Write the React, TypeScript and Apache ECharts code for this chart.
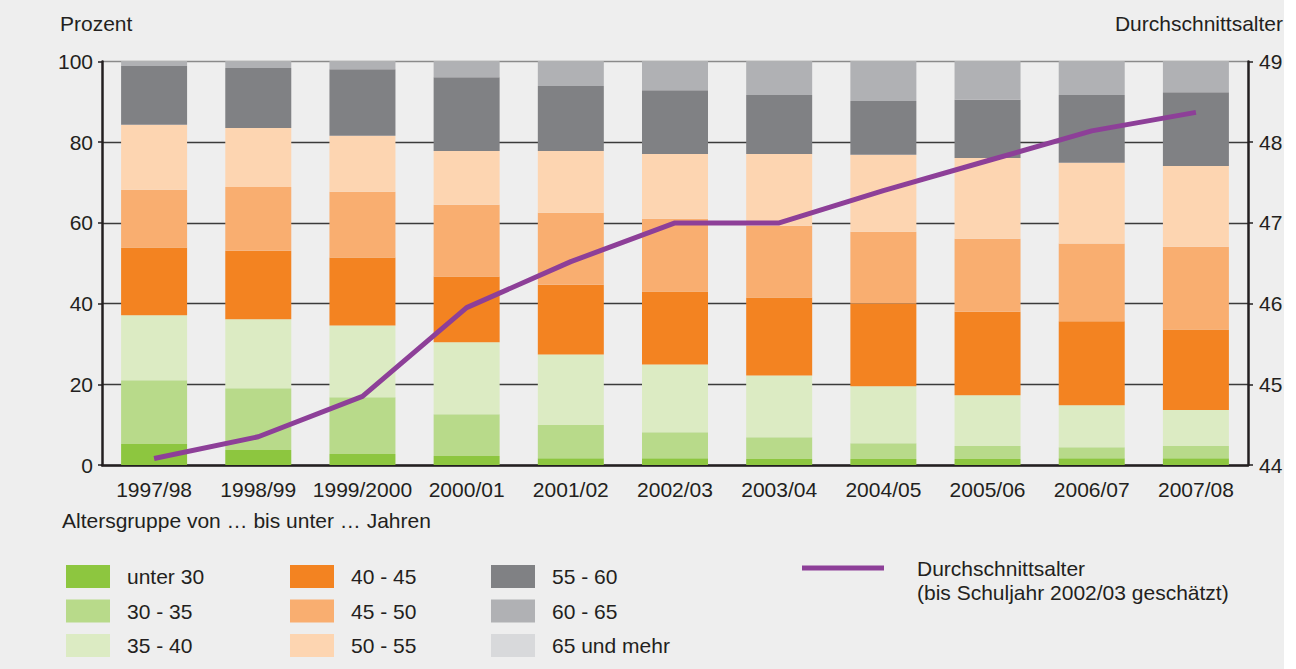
import React, { useEffect, useRef } from "react";
import * as echarts from "echarts";

const categories = ["1997/98", "1998/99", "1999/2000", "2000/01", "2001/02", "2002/03", "2003/04", "2004/05", "2005/06", "2006/07", "2007/08"];

const unter30 = [5.2, 3.7, 2.7, 2.2, 1.7, 1.7, 1.5, 1.5, 1.5, 1.7, 1.7];
const g30bis35 = [15.8, 15.3, 14.1, 10.4, 8.2, 6.4, 5.4, 3.9, 3.2, 2.7, 3.0];
const g35bis40 = [16.1, 17.1, 17.8, 17.8, 17.5, 16.8, 15.3, 14.1, 12.6, 10.4, 8.9];
const g40bis45 = [16.8, 17.0, 16.8, 16.3, 17.3, 18.1, 19.3, 20.5, 20.7, 20.8, 20.0];
const g45bis50 = [14.3, 15.8, 16.3, 17.8, 17.8, 18.0, 17.8, 17.8, 18.1, 19.3, 20.5];
const g50bis55 = [16.1, 14.6, 13.9, 13.3, 15.3, 16.1, 17.8, 19.1, 20.0, 20.0, 20.0];
const g55bis60 = [14.6, 14.9, 16.5, 18.3, 16.1, 15.8, 14.6, 13.3, 14.4, 16.8, 18.3];
const g60bis65 = [1.0, 1.5, 1.8, 3.8, 6.0, 7.0, 8.2, 9.7, 9.4, 8.2, 7.5];
const g65undMehr = [0.1, 0.1, 0.1, 0.1, 0.1, 0.1, 0.1, 0.1, 0.1, 0.1, 0.1];

const durchschnittsalter = [44.08, 44.35, 44.85, 45.95, 46.52, 47.0, 47.0, 47.4, 47.77, 48.14, 48.37];

const groupNames = ["unter 30", "30 - 35", "35 - 40", "40 - 45", "45 - 50", "50 - 55", "55 - 60", "60 - 65", "65 und mehr"];
const groupData = [unter30, g30bis35, g35bis40, g40bis45, g45bis50, g50bis55, g55bis60, g60bis65, g65undMehr];
const groupColors = ["#8dc63f", "#b8da8a", "#dcebc3", "#f38321", "#f9ae70", "#fdd5b1", "#808184", "#b0b1b4", "#d8d9db"];

const lineName = "Durchschnittsalter";
const lineNote = "(bis Schuljahr 2002/03 geschätzt)";
const legendTitle = "Altersgruppe von … bis unter … Jahren";
const leftAxisName = "Prozent";
const rightAxisName = "Durchschnittsalter";

const FONT = "'Liberation Sans', Arial, Helvetica, sans-serif";
const TXT = "#231f20";

export default function App() {
  const ref = useRef<HTMLDivElement>(null);
  useEffect(() => {
    const chart = echarts.init(ref.current!, null, { renderer: "svg" });
    const legendBase = {
      orient: "vertical",
      top: 565,
      padding: 0,
      itemWidth: 44,
      itemHeight: 23,
      itemGap: 11.5,
      icon: "rect",
      selectedMode: false,
      textStyle: { fontSize: 21, color: TXT, fontFamily: FONT, lineHeight: 23, padding: [0, 0, 0, 12] },
    };
    const barSeries = groupNames.map((name, i) => ({
      name,
      type: "bar",
      stack: "total",
      barWidth: 66,
      data: groupData[i],
      itemStyle: { color: groupColors[i] },
      emphasis: { disabled: true },
    }));
    chart.setOption({
      animation: false,
      backgroundColor: "transparent",
      textStyle: { fontFamily: FONT },
      grid: { left: 102, right: 48, top: 61.5, bottom: 204, containLabel: false },
      xAxis: {
        type: "category",
        data: categories,
        axisLine: { show: true, lineStyle: { color: TXT, width: 2.5 } },
        axisTick: { show: false },
        axisLabel: { interval: 0, fontSize: 21, color: TXT, margin: 14, fontFamily: FONT },
      },
      yAxis: [
        {
          type: "value",
          min: 0,
          max: 100,
          interval: 20,
          axisLine: { show: true, lineStyle: { color: TXT, width: 2.5 } },
          axisTick: { show: true, length: 4, lineStyle: { color: TXT, width: 1.5 } },
          axisLabel: { fontSize: 21, color: TXT, margin: 9, fontFamily: FONT },
          splitLine: { show: true, lineStyle: { color: ["#3a3a3a", "#3a3a3a", "#3a3a3a", "#3a3a3a", "#3a3a3a", "#8a8a8a"], width: 1.3 } },
        },
        {
          type: "value",
          min: 44,
          max: 49,
          interval: 1,
          position: "right",
          axisLine: { show: true, lineStyle: { color: TXT, width: 2.5 } },
          axisTick: { show: true, length: 5, lineStyle: { color: TXT, width: 1.5 } },
          axisLabel: { fontSize: 21, color: TXT, margin: 11, fontFamily: FONT },
          splitLine: { show: false },
        },
      ],
      legend: [
        { ...legendBase, left: 66, data: groupNames.slice(0, 3) },
        { ...legendBase, left: 290, data: groupNames.slice(3, 6) },
        { ...legendBase, left: 491, data: groupNames.slice(6, 9) },
        {
          orient: "horizontal",
          left: 802,
          top: 556,
          padding: 0,
          itemWidth: 82,
          itemHeight: 5,
          icon: "rect",
          selectedMode: false,
          data: [lineName],
          textStyle: { fontSize: 21, color: TXT, fontFamily: FONT, lineHeight: 24, padding: [0, 0, 0, 28] },
        },
      ],
      graphic: [
        { type: "text", left: 60, top: 13, style: { text: leftAxisName, fontSize: 21, fill: TXT, fontFamily: FONT } },
        { type: "text", right: 13, top: 13, style: { text: rightAxisName, fontSize: 21, fill: TXT, fontFamily: FONT } },
        { type: "text", left: 62, top: 510, style: { text: legendTitle, fontSize: 21, fill: TXT, fontFamily: FONT } },
        { type: "text", left: 917, top: 582, style: { text: lineNote, fontSize: 21, fill: TXT, fontFamily: FONT } },
      ],
      series: [
        ...barSeries,
        {
          name: lineName,
          type: "line",
          yAxisIndex: 1,
          data: durchschnittsalter,
          symbol: "none",
          z: 10,
          itemStyle: { color: "#8d3f98" },
          lineStyle: { color: "#8d3f98", width: 5 },
          emphasis: { disabled: true },
        },
      ],
    });
    return () => chart.dispose();
  }, []);
  return (
    <div style={{ position: "fixed", left: 0, top: 0, width: 1296, height: 669, background: "#ffffff" }}>
      <div style={{ position: "absolute", left: 0, top: 0, width: 1284, height: 669, background: "#eeeeee" }} />
      <div ref={ref} style={{ position: "absolute", left: 0, top: 0, width: 1296, height: 669 }} />
    </div>
  );
}
